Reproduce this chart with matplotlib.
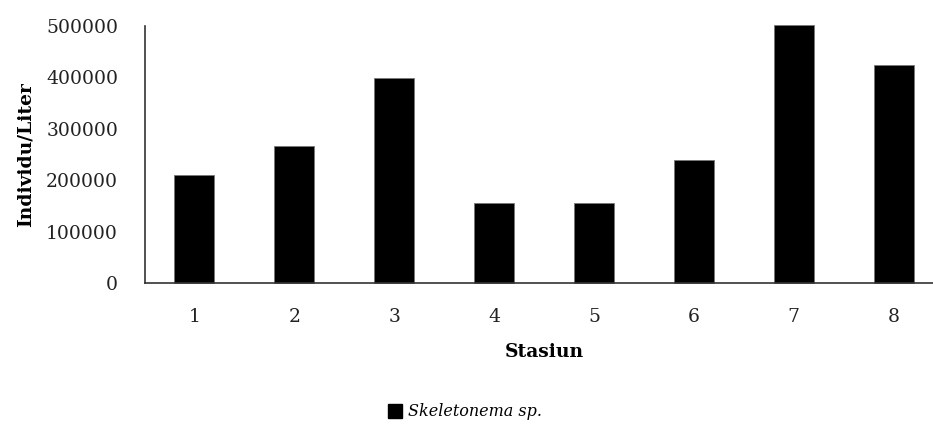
import matplotlib
matplotlib.use("Agg")
import matplotlib.pyplot as plt
from matplotlib.patches import Patch

# Data
stations = ["1", "2", "3", "4", "5", "6", "7", "8"]
counts = [211000, 267000, 398000, 155000, 155000, 239000, 502000, 425000]
yticks = [0, 100000, 200000, 300000, 400000, 500000]
series_name = "Skeletonema sp."

plt.rcParams['font.family'] = ['DejaVu Serif']

fig = plt.figure(figsize=(9.33, 4.26), dpi=100)
ax = fig.add_axes([144.5 / 933, 143 / 426, 799 / 933, 257 / 426])

x = range(len(stations))
ax.bar(x, counts, width=0.4, color="black", edgecolor="#777777", linewidth=0.6, clip_on=False)

ax.set_xlim(-0.5, len(stations) - 0.5)
ax.set_ylim(0, 500000)
ax.set_xticks(list(x))
ax.set_xticklabels(stations)
ax.set_yticks(yticks)
ax.set_yticklabels([str(v) for v in yticks])
ax.tick_params(axis="both", length=0, labelsize=13.5, colors="#222222")
ax.tick_params(axis="x", pad=18)
ax.tick_params(axis="y", pad=19)

for side in ["top", "right"]:
    ax.spines[side].set_visible(False)
for side in ["left", "bottom"]:
    ax.spines[side].set_color("#333333")
    ax.spines[side].set_linewidth(1.2)

ax.set_ylabel("Individu/Liter", fontsize=13.5, fontweight="bold", labelpad=8)
ax.set_xlabel("Stasiun", fontsize=13.5, fontweight="bold", labelpad=12)

handles = [Patch(facecolor="black", edgecolor="black", label=series_name)]
fig.legend(handles=handles, loc="center", bbox_to_anchor=(465 / 933, 1 - 412 / 426),
           frameon=False, prop={"style": "italic", "size": 11.5},
           handlelength=0.9, handleheight=0.9, handletextpad=0.4)

fig.savefig("out.png", dpi=100)
